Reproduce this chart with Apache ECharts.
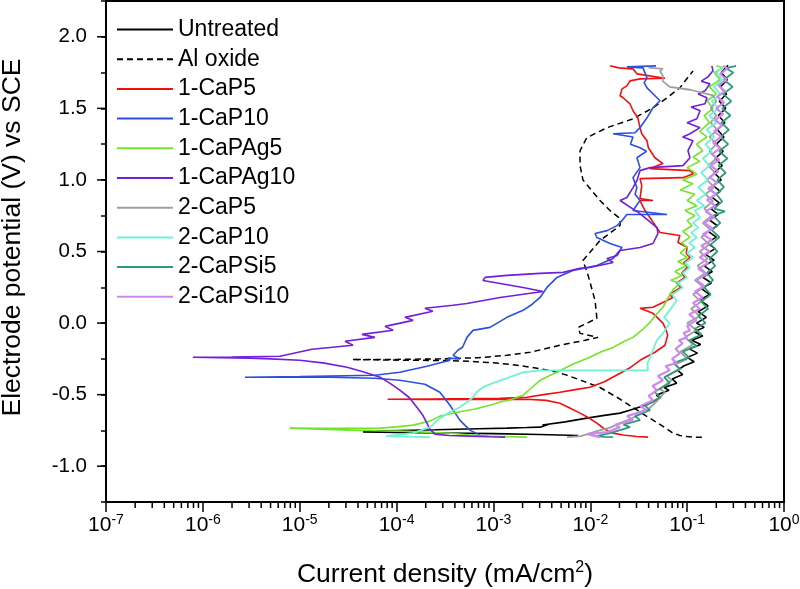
<!DOCTYPE html>
<html><head><meta charset="utf-8">
<script src="https://cdn.jsdelivr.net/npm/echarts@6/dist/echarts.min.js"></script>
<style>html,body{margin:0;padding:0;background:#fff}#c{width:800px;height:589px}</style>
</head><body><div id="c"></div>
<script>
const FONT = 'Liberation Sans, Arial, sans-serif';
const seriesNames = ['Untreated','Al oxide','1-CaP5','1-CaP10','1-CaPAg5','1-CaPAg10','2-CaP5','2-CaP10','2-CaPSi5','2-CaPSi10'];
const seriesColors = ['#000000','#000000','#f01010','#2b4fe0','#72e42a','#7020d8','#9aa0a0','#6ff2d6','#2e9a78','#d088f0'];
const xTickExponents = ['-7','-6','-5','-4','-3','-2','-1','0'];
const yMajorTicks = [-1.0,-0.5,0.0,0.5,1.0,1.5,2.0];

// [current density (mA/cm2), potential (V vs SCE)]
const untreated = [[7.5e-3,-0.785],[3e-3,-0.778],[1e-3,-0.772],[3e-4,-0.768],[1e-4,-0.764],[4.5e-5,-0.76],
[8e-5,-0.752],[2.5e-4,-0.745],[7e-4,-0.738],[1.38e-3,-0.734],[2.2e-3,-0.73],[3.03e-3,-0.727],[3.8e-3,-0.705],[3.2e-3,-0.712],[5.5e-3,-0.69],[9.2e-3,-0.664],[1.4e-2,-0.645],[2.03e-2,-0.629],[2.6e-2,-0.608],[3.3e-2,-0.585],[4.3e-2,-0.555],[5.3e-2,-0.52],[4.8e-2,-0.505],[6.5e-2,-0.47],[5.8e-2,-0.45],[7.8e-2,-0.42],[7e-2,-0.39],[9e-2,-0.36],[8e-2,-0.33],
[0.092,-0.30],[0.118,-0.27],[0.1,-0.24],[0.128,-0.21],[0.105,-0.18],[0.138,-0.15],[0.112,-0.12],[0.145,-0.09],[0.118,-0.06],[0.15,-0.03],[0.125,0.0],[0.158,0.04],[0.13,0.08],[0.165,0.12],[0.135,0.16],[0.17,0.2],[0.14,0.24],[0.178,0.28],[0.145,0.32],[0.182,0.36],[0.15,0.4],[0.19,0.44],[0.155,0.48],[0.195,0.52],[0.16,0.56],[0.2,0.6],[0.165,0.64],[0.205,0.68],[0.17,0.72],[0.21,0.76],[0.175,0.8],[0.215,0.84],[0.18,0.88],[0.22,0.92],[0.185,0.96],[0.225,1.0],[0.19,1.05],[0.23,1.1],[0.195,1.15],[0.235,1.2],[0.2,1.25],[0.24,1.3],[0.205,1.35],[0.245,1.4],[0.21,1.45],[0.25,1.5],[0.215,1.55],[0.255,1.6],[0.22,1.65],[0.26,1.7],[0.225,1.75],[0.265,1.8]];

const alOxide = [[0.142,-0.797],[0.12,-0.797],[0.1,-0.793],[0.084,-0.785],[0.07,-0.765],[0.062,-0.74],[0.05,-0.7],[0.038,-0.65],[0.0276,-0.59],[0.019,-0.52],[0.0126,-0.45],[0.008,-0.4],[0.0055,-0.36],[0.0038,-0.33],[0.002,-0.3],[0.00117,-0.281],[0.0006,-0.268],[0.000356,-0.262],[0.000108,-0.259],[3.46e-5,-0.255],
[1e-4,-0.254],[2.8e-4,-0.25],[7e-4,-0.242],[1.38e-3,-0.225],[2.39e-3,-0.204],[4.87e-3,-0.155],[8.85e-3,-0.12],[1.2e-2,-0.1],[7.84e-3,-0.072],[7.5e-3,-0.03],[1.17e-2,0.033],[1.12e-2,0.158],[9.5e-3,0.333],[8.4e-3,0.437],[1.26e-2,0.577],[2.03e-2,0.681],[2.03e-2,0.73],[1.6e-2,0.786],[1.26e-2,0.856],[8.4e-3,1.0],[7.84e-3,1.1],[7.84e-3,1.204],[9.2e-3,1.295],[1.49e-2,1.365],[2.76e-2,1.427],[4.44e-2,1.504],[6.2e-2,1.574],[8.4e-2,1.643],[0.115,1.762]];

const caP5_1 = [[3.94e-2,-0.797],[3e-2,-0.792],[2.2e-2,-0.782],[1.72e-2,-0.769],[1.4e-2,-0.74],[1.17e-2,-0.699],[9.5e-3,-0.66],[7.84e-3,-0.629],[6e-3,-0.59],[4.87e-3,-0.56],[3.5e-3,-0.54],[2.22e-3,-0.532],[1e-3,-0.533],[4.5e-4,-0.533],[2e-4,-0.533],[8.1e-5,-0.532],
[2.21e-4,-0.53],[6e-4,-0.528],[1.17e-3,-0.525],[2.22e-3,-0.518],[3.3e-3,-0.5],[4.87e-3,-0.483],[7e-3,-0.465],[9.9e-3,-0.448],[1.4e-2,-0.41],[2.03e-2,-0.351],[2.6e-2,-0.31],[3.26e-2,-0.26],[4.65e-2,-0.204],[5.9e-2,-0.155],[6.3e-2,-0.086],[6e-2,-0.04],[5.63e-2,0],[4.44e-2,0.068],[3.26e-2,0.103],[4.44e-2,0.11],[6.2e-2,0.158],[7.1e-2,0.179],[6.6e-2,0.2],[8.6e-2,0.249],[7.8e-2,0.28],[9.5e-2,0.319],[8.8e-2,0.35],[0.1,0.388],[0.092,0.42],[0.107,0.458],[9.77e-2,0.486],[0.1,0.53],[8.04e-2,0.563],[8.4e-2,0.612],[5.25e-2,0.633],[4.34e-2,0.716],[3.67e-2,0.786],[3.26e-2,0.856],[4.44e-2,0.856],[3.26e-2,0.87],[3.4e-2,0.96],[3.26e-2,1.009],[9.05e-2,1.016],[0.116,1.044],[0.107,1.065],[4.14e-2,1.079],[5.63e-2,1.114],[4.65e-2,1.155],[3.98e-2,1.225],[3.85e-2,1.274],[3.4e-2,1.323],[3.26e-2,1.365],[3.1e-2,1.434],[2.76e-2,1.483],[2.57e-2,1.532],[2.18e-2,1.574],[2.03e-2,1.588],[2.13e-2,1.636],[2.39e-2,1.657],[2.57e-2,1.692],[3.26e-2,1.706],[5.9e-2,1.71],[3.03e-2,1.741],[2.76e-2,1.776],[1.96e-2,1.783],[1.6e-2,1.797]];

const caP10_1 = [[7.25e-4,-0.783],[5.7e-4,-0.748],[4.5e-4,-0.678],[3.56e-4,-0.574],[2.8e-4,-0.483],[1.96e-4,-0.427],[1.08e-4,-0.399],[5.98e-5,-0.385],[2.05e-5,-0.379],[8e-6,-0.378],[2.72e-6,-0.378],
[1e-5,-0.373],[5.98e-5,-0.364],[1.08e-4,-0.344],[2.06e-4,-0.302],[3.56e-4,-0.26],[3.4e-4,-0.245],[4.5e-4,-0.25],[3.83e-4,-0.225],[4.3e-4,-0.19],[4.8e-4,-0.169],[5.33e-4,-0.1],[6.15e-4,-0.051],[9.2e-4,-0.03],[1.38e-3,0.04],[2.02e-3,0.089],[2.5e-3,0.13],[3.03e-3,0.179],[3.57e-3,0.249],[4.53e-3,0.319],[6.6e-3,0.368],[8.4e-3,0.382],[1.17e-2,0.402],[1.72e-2,0.451],[2.13e-2,0.528],[1.6e-2,0.556],[1.17e-2,0.598],[1.12e-2,0.626],[1.49e-2,0.646],[1.89e-2,0.681],[2.13e-2,0.716],[2.39e-2,0.758],[6.2e-2,0.758],[2.76e-2,0.786],[3.26e-2,0.856],[2.9e-2,0.9],[3.03e-2,0.946],[2.76e-2,1.016],[3.26e-2,1.086],[3.03e-2,1.155],[3.8e-2,1.2],[3.26e-2,1.225],[2.6e-2,1.25],[2.76e-2,1.3],[1.72e-2,1.323],[2.9e-2,1.33],[3.26e-2,1.365],[3.85e-2,1.434],[4.44e-2,1.504],[5.25e-2,1.553],[4.44e-2,1.602],[3.85e-2,1.643],[3.6e-2,1.68],[3.85e-2,1.713],[3.5e-2,1.783],[2.39e-2,1.79],[4.77e-2,1.797]];

const caPAg5_1 = [[2.22e-3,-0.797],[1.5e-3,-0.794],[9.2e-4,-0.79],[5.5e-4,-0.78],[3.56e-4,-0.77],[2e-4,-0.762],[1.08e-4,-0.755],[6e-5,-0.752],[3.3e-5,-0.748],[1.6e-5,-0.742],[7.9e-6,-0.734],
[1.5e-5,-0.735],[3e-5,-0.736],[6.75e-5,-0.734],[1e-4,-0.725],[1.48e-4,-0.713],[2.21e-4,-0.685],[2.8e-4,-0.65],[3.5e-4,-0.635],[4.5e-4,-0.62],[6.5e-4,-0.6],[9.2e-4,-0.574],[1.2e-3,-0.55],[1.5e-3,-0.535],[2.02e-3,-0.504],[2.5e-3,-0.45],[3.03e-3,-0.4],[4.5e-3,-0.344],[6.5e-3,-0.29],[9.9e-3,-0.239],[1.3e-2,-0.2],[1.72e-2,-0.17],[2.2e-2,-0.13],[2.76e-2,-0.1],[3.4e-2,-0.05],[4.14e-2,0.005],[4.8e-2,0.06],[5.63e-2,0.11],[6.3e-2,0.17],[7.1e-2,0.23],[8.4e-2,0.277],[6.8e-2,0.3],[8.8e-2,0.33],[7.5e-2,0.36],[9.77e-2,0.4],[8e-2,0.43],[0.1,0.458],[0.085,0.49],[0.1,0.53],[0.088,0.56],[0.107,0.6],[0.09,0.64],[0.112,0.68],[0.1,0.716],[0.12,0.75],[0.095,0.786],[0.126,0.82],[0.1,0.856],[0.12,0.9],[0.085,0.93],[0.115,0.974],[0.09,1.0],[0.126,1.04],[0.1,1.086],[0.135,1.13],[0.115,1.16],[0.145,1.204],[0.125,1.25],[0.16,1.3],[0.135,1.34],[0.17,1.4],[0.15,1.45],[0.185,1.5],[0.16,1.553],[0.2,1.6],[0.17,1.65],[0.218,1.7],[0.19,1.75],[0.235,1.783],[0.2,1.797]];

const caPAg10_1 = [[1.32e-3,-0.797],[9e-4,-0.794],[5.7e-4,-0.79],[3.5e-4,-0.785],[2.49e-4,-0.776],[2.2e-4,-0.74],[2.06e-4,-0.699],[1.85e-4,-0.64],[1.62e-4,-0.588],[1.35e-4,-0.52],[1.08e-4,-0.469],[8.5e-5,-0.42],[6.75e-5,-0.378],[4.5e-5,-0.34],[3.08e-5,-0.309],[1.8e-5,-0.28],[1e-5,-0.26],[5e-6,-0.25],[3.07e-6,-0.246],[1.5e-6,-0.242],[7.9e-7,-0.239],
[2e-6,-0.238],[6.25e-6,-0.232],[1.34e-5,-0.183],[3.55e-5,-0.155],[2.94e-5,-0.127],[5.98e-5,-0.1],[4.39e-5,-0.079],[9.2e-5,-0.05],[7.6e-5,-0.023],[1.48e-4,0.019],[1.22e-4,0.04],[2.37e-4,0.082],[1.96e-4,0.103],[3.83e-4,0.124],[5.33e-4,0.137],[1.17e-3,0.179],[3.25e-3,0.221],[2.02e-3,0.249],[7.8e-4,0.298],[8.2e-4,0.319],[1.38e-3,0.333],[3.03e-3,0.347],[5.24e-3,0.354],[7.84e-3,0.382],[9.9e-3,0.388],[1.72e-2,0.423],[1.49e-2,0.451],[1.89e-2,0.472],[2.03e-2,0.507],[3.26e-2,0.528],[4.44e-2,0.556],[5e-2,0.626],[4.88e-2,0.667],[3.26e-2,0.765],[2.03e-2,0.856],[2.39e-2,0.877],[2.76e-2,0.946],[3.03e-2,0.995],[3.26e-2,1.065],[4.14e-2,1.086],[9.05e-2,1.1],[0.107,1.155],[0.102,1.204],[0.115,1.274],[0.09,1.3],[0.107,1.323],[0.136,1.365],[0.1,1.4],[0.126,1.427],[0.136,1.483],[0.11,1.51],[0.153,1.532],[0.16,1.574],[0.13,1.6],[0.153,1.623],[0.172,1.671],[0.14,1.69],[0.164,1.72],[0.185,1.762],[0.18,1.797]];

const caP5_2 = [[5.75e-3,-0.797],[8e-3,-0.79],[1.17e-2,-0.755],[1.6e-2,-0.73],[2.03e-2,-0.699],[2.6e-2,-0.67],[3.26e-2,-0.636],[4e-2,-0.6],[4.65e-2,-0.56],[5.9e-2,-0.483],[5.2e-2,-0.46],[6.9e-2,-0.399],[6.2e-2,-0.37],[8.5e-2,-0.32],[7.5e-2,-0.29],
[0.1,-0.25],[0.085,-0.2],[0.115,-0.15],[0.095,-0.1],[0.125,-0.05],[0.1,0],[0.135,0.05],[0.11,0.1],[0.14,0.15],[0.115,0.2],[0.148,0.25],[0.12,0.3],[0.155,0.35],[0.128,0.4],[0.162,0.45],[0.135,0.5],[0.17,0.55],[0.14,0.6],[0.175,0.65],[0.145,0.7],[0.18,0.75],[0.15,0.8],[0.185,0.85],[0.155,0.9],[0.19,0.95],[0.16,1.0],[0.195,1.05],[0.165,1.1],[0.2,1.15],[0.17,1.2],[0.2,1.25],[0.17,1.3],[0.205,1.35],[0.175,1.4],[0.2,1.45],[0.175,1.5],[0.2,1.55],[0.185,1.59],[0.107,1.63],[6.6e-2,1.65],[5.6e-2,1.69],[5.6e-2,1.73],[5.25e-2,1.76],[5.6e-2,1.776],[3.98e-2,1.785]];

const caP10_2 = [[2.21e-4,-0.797],[1.3e-4,-0.793],[7.8e-5,-0.79],[1.48e-4,-0.769],[2.21e-4,-0.727],[2.8e-4,-0.664],[3.56e-4,-0.622],[4.5e-4,-0.588],[5.33e-4,-0.553],[6.15e-4,-0.518],[6.7e-4,-0.483],[7.8e-4,-0.448],[9.9e-4,-0.42],[1.38e-3,-0.385],[2.02e-3,-0.344],[3.03e-3,-0.33],[9.9e-3,-0.33],[3.94e-2,-0.33],[3.9e-2,-0.28],[4.44e-2,-0.19],[4.87e-2,-0.12],[5.63e-2,-0.072],[6.6e-2,0],[5.8e-2,0.04],[6.6e-2,0.089],[7.8e-2,0.158],[7e-2,0.2],[9e-2,0.249],[0.08,0.28],[0.1,0.319],[0.09,0.35],[0.107,0.388],[0.095,0.42],[0.115,0.458],[0.1,0.49],[0.12,0.528],[0.105,0.56],[0.126,0.598],[0.11,0.63],[0.13,0.667],[0.115,0.7],[0.136,0.737],[0.12,0.786],[0.15,0.82],[0.126,0.856],[0.155,0.9],[0.13,0.95],[0.165,1.0],[0.14,1.05],[0.17,1.1],[0.145,1.15],[0.18,1.2],[0.155,1.25],[0.19,1.3],[0.16,1.35],[0.2,1.4],[0.17,1.45],[0.21,1.5],[0.18,1.55],[0.22,1.6],[0.19,1.65],[0.23,1.7],[0.2,1.75],[0.245,1.797]];

const caPSi5_2 = [[1.72e-2,-0.797],[1.4e-2,-0.795],[1.17e-2,-0.79],[1.6e-2,-0.769],[2.57e-2,-0.727],[2.2e-2,-0.71],[3.26e-2,-0.678],[2.9e-2,-0.65],[4.14e-2,-0.608],[3.7e-2,-0.58],[5.25e-2,-0.518],[4.6e-2,-0.48],[6.6e-2,-0.42],[5.8e-2,-0.378],[8.4e-2,-0.32],[7.2e-2,-0.28],[0.105,-0.24],[0.09,-0.2],[0.125,-0.16],[0.105,-0.12],[0.14,-0.08],[0.12,-0.04],[0.155,0],[0.13,0.05],[0.165,0.1],[0.14,0.15],[0.175,0.2],[0.15,0.25],[0.185,0.3],[0.16,0.35],[0.195,0.4],[0.17,0.45],[0.205,0.5],[0.175,0.55],[0.215,0.6],[0.18,0.65],[0.22,0.7],[0.185,0.75],[0.245,0.78],[0.19,0.8],[0.23,0.85],[0.2,0.9],[0.24,0.95],[0.205,1.0],[0.25,1.05],[0.21,1.1],[0.26,1.15],[0.215,1.2],[0.265,1.25],[0.22,1.3],[0.27,1.35],[0.225,1.4],[0.28,1.45],[0.23,1.5],[0.285,1.55],[0.235,1.6],[0.295,1.65],[0.24,1.7],[0.3,1.75],[0.25,1.78],[0.32,1.797]];

const caPSi10_2 = [[1.26e-2,-0.797],[9.3e-3,-0.776],[1.49e-2,-0.762],[2.03e-2,-0.727],[1.8e-2,-0.71],[2.76e-2,-0.678],[2.4e-2,-0.65],[3.8e-2,-0.608],[3.3e-2,-0.58],[4.44e-2,-0.539],[4e-2,-0.51],[4.87e-2,-0.469],[4.4e-2,-0.44],[5.63e-2,-0.399],[5e-2,-0.37],[6.6e-2,-0.33],[6e-2,-0.3],[7.8e-2,-0.28],[7e-2,-0.25],[8.4e-2,-0.211],[7.6e-2,-0.18],[9e-2,-0.141],[8.2e-2,-0.12],[0.1,-0.1],[0.092,-0.07],[0.107,-0.051],[0.1,-0.02],[0.125,0.02],[0.105,0.06],[0.135,0.1],[0.115,0.14],[0.145,0.18],[0.12,0.22],[0.15,0.26],[0.125,0.3],[0.16,0.34],[0.13,0.38],[0.165,0.42],[0.135,0.46],[0.17,0.5],[0.14,0.54],[0.18,0.58],[0.145,0.62],[0.185,0.66],[0.15,0.7],[0.19,0.74],[0.155,0.78],[0.195,0.82],[0.16,0.86],[0.2,0.9],[0.165,0.94],[0.205,0.98],[0.17,1.02],[0.21,1.06],[0.175,1.1],[0.215,1.14],[0.18,1.18],[0.22,1.22],[0.185,1.26],[0.225,1.3],[0.19,1.34],[0.23,1.38],[0.195,1.42],[0.235,1.46],[0.2,1.5],[0.24,1.54],[0.205,1.58],[0.245,1.62],[0.21,1.66],[0.255,1.7],[0.22,1.74],[0.26,1.78],[0.235,1.797]];

const dataSets = [untreated, alOxide, caP5_1, caP10_1, caPAg5_1, caPAg10_1, caP5_2, caP10_2, caPSi5_2, caPSi10_2];
const lineWidths = [1.6,1.5,1.6,1.6,1.6,1.6,1.8,1.8,1.8,2.2];

const chart = echarts.init(document.getElementById('c'), null, {renderer:'canvas'});
const option = {
  animation: false,
  backgroundColor: '#fff',
  textStyle: {fontFamily: FONT},
  grid: {left:106, right:16, top:1, bottom:87, containLabel:false, outerBoundsMode:'none', show:true, borderColor:'#000', borderWidth:2, backgroundColor:'transparent'},
  legend: {
    orient:'vertical', left:116, top:18, padding:0, itemWidth:56, itemHeight:14, itemGap:6.7, selectedMode:false,
    itemStyle:{opacity:0, borderWidth:0},
    textStyle:{fontSize:23, color:'#000', fontFamily:FONT, lineHeight:22},
    data: seriesNames
  },
  xAxis: {
    type:'log', logBase:10, min:1e-7, max:1, interval:1, splitNumber:7,
    splitLine:{show:false},
    axisLine:{onZero:false, lineStyle:{color:'#000', width:2}},
    axisTick:{length:10, lineStyle:{color:'#000', width:1.5}},
    minorTick:{show:false},
    axisLabel:{
      margin:11, color:'#000',
      formatter: function(v){ const e = Math.round(Math.log10(v)); return '{b|10}{s|' + xTickExponents[e + 7] + '}'; },
      rich:{ b:{fontSize:21, lineHeight:24, fontFamily:FONT, color:'#000'}, s:{fontSize:14, lineHeight:14, verticalAlign:'top', fontFamily:FONT, color:'#000'} }
    },
    name:'{a|Current density (mA/cm}{s|2}{a|)}', nameLocation:'middle', nameGap:58,
    nameTextStyle:{ rich:{ a:{fontSize:26.5, lineHeight:30, fontFamily:FONT, color:'#000'}, s:{fontSize:16, lineHeight:16, verticalAlign:'top', fontFamily:FONT, color:'#000'} } }
  },
  yAxis: {
    type:'value', min:-1.25, max:2.25, interval:0.25,
    splitLine:{show:false},
    axisLine:{show:true, onZero:false, lineStyle:{color:'#000', width:2}},
    axisTick:{show:true, length:5, lineStyle:{color:'#000', width:1.5}},
    minorTick:{show:false},
    axisLabel:{ margin:19, fontSize:20.5, color:'#000', fontFamily:FONT,
      formatter:function(v){ for (let k = 0; k < yMajorTicks.length; k++) { if (Math.abs(v - yMajorTicks[k]) < 1e-6) return yMajorTicks[k].toFixed(1); } return ''; } },
    name:'Electrode potential (V) vs SCE', nameLocation:'middle', nameGap:80, nameRotate:90,
    nameTextStyle:{fontSize:26.5, color:'#000', fontFamily:FONT, padding:[0,0,0,28]}
  },
  series: seriesNames.map(function(n, i){
    return { name:n, type:'line', data:dataSets[i], symbol:'none', showSymbol:false, clip:true,
      lineStyle:{color:seriesColors[i], width:lineWidths[i], type: i === 1 ? [6,4] : 'solid'},
      itemStyle:{color:seriesColors[i]}, emphasis:{disabled:true} };
  })
};
chart.setOption(option);

// extra tick marks placed through the axis scales: log minor ticks (2..9 per decade) and longer major y ticks
const g = [];
const yBottom = chart.convertToPixel({yAxisIndex:0}, -1.25);
for (let e = -7; e < 0; e++) {
  for (let k = 2; k <= 9; k++) {
    const x = chart.convertToPixel({xAxisIndex:0}, k * Math.pow(10, e));
    g.push({type:'line', shape:{x1:x, y1:yBottom, x2:x, y2:yBottom+6}, style:{stroke:'#000', lineWidth:1.5}, silent:true});
  }
}
const xLeft = chart.convertToPixel({xAxisIndex:0}, 1e-7);
yMajorTicks.forEach(function(v){
  const y = chart.convertToPixel({yAxisIndex:0}, v);
  g.push({type:'line', shape:{x1:xLeft-9, y1:y, x2:xLeft, y2:y}, style:{stroke:'#000', lineWidth:1.5}, silent:true});
});
chart.setOption({graphic: g});
</script></body></html>
